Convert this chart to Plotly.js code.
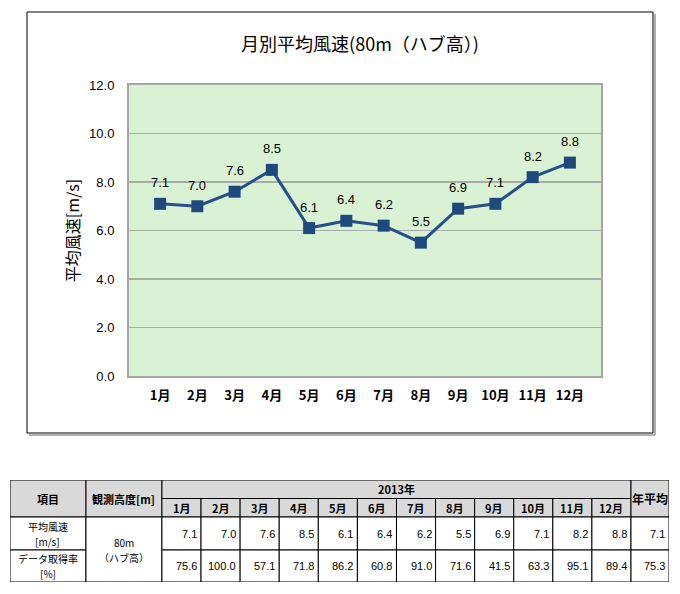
<!DOCTYPE html>
<html>
<head>
<meta charset="utf-8">
<script src="https://cdn.plot.ly/plotly-3.0.1.min.js"></script>
<style>
  html, body { margin: 0; padding: 0; background: #fff; }
  #chart { width: 680px; height: 594px; }
</style>
</head>
<body>
<div id="chart"></div>
<script>
// データ
const months = ['1月', '2月', '3月', '4月', '5月', '6月', '7月', '8月', '9月', '10月', '11月', '12月'];
const windSpeed = [7.1, 7.0, 7.6, 8.5, 6.1, 6.4, 6.2, 5.5, 6.9, 7.1, 8.2, 8.8];
const dataRate = [75.6, 100.0, 57.1, 71.8, 86.2, 60.8, 91.0, 71.6, 41.5, 63.3, 95.1, 89.4];
const annualWind = 7.1;
const annualRate = 75.3;
const yearLabel = '2013年';
const rowLabels = ['平均風速<br>[m/s]', 'データ取得率<br>[%]'];
const heightLabel = '80m<br>（ハブ高）';

const W = 680, H = 594;
const px = x => x / W;
const py = y => 1 - y / H;
const FONT = 'Liberation Sans, Arial, Noto Sans CJK JP, sans-serif';
const JFONT = 'Noto Sans CJK JP, sans-serif';

// グラフ
const trace = {
    x: months,
    y: windSpeed,
    type: 'scatter',
    mode: 'lines+markers',
    line: { color: '#264f8c', width: 3 },
    marker: { symbol: 'square', size: 12, color: '#1f497d' },
    cliponaxis: false,
    hoverinfo: 'skip',
    xaxis: 'x',
    yaxis: 'y'
};

const annotations = [];
// データラベル
windSpeed.forEach((v, i) => annotations.push({
    xref: 'x', yref: 'y', x: months[i], y: v,
    text: v.toFixed(1), showarrow: false,
    yshift: 21, xanchor: 'center', yanchor: 'middle',
    font: { family: FONT, size: 13, color: '#000' }
}));

// 表の列幅・行高さ (px)
const colW = [76, 76].concat(months.map(() => 39.1)).concat([38]);
const rowH = [18.5, 18.5, 33, 32];
const colE = [0];
colW.forEach(w => colE.push(colE[colE.length - 1] + w));
const rowE = [0];
rowH.forEach(h => rowE.push(rowE[rowE.length - 1] + h));

const cells = [];
cells.push({ c: [0, 1], r: [0, 2], t: '項目', head: true, bold: true });
cells.push({ c: [1, 2], r: [0, 2], t: '観測高度[m]', head: true, bold: true });
cells.push({ c: [2, 14], r: [0, 1], t: yearLabel, head: true, bold: true });
months.forEach((m, i) => cells.push({ c: [2 + i, 3 + i], r: [1, 2], t: m, head: true, bold: true }));
cells.push({ c: [14, 15], r: [0, 2], t: '年平均', head: true, bold: true, size: 12 });
cells.push({ c: [0, 1], r: [2, 3], t: rowLabels[0] });
cells.push({ c: [0, 1], r: [3, 4], t: rowLabels[1] });
cells.push({ c: [1, 2], r: [2, 4], t: heightLabel });
windSpeed.forEach((v, i) => cells.push({ c: [2 + i, 3 + i], r: [2, 3], t: v.toFixed(1), right: true }));
dataRate.forEach((v, i) => cells.push({ c: [2 + i, 3 + i], r: [3, 4], t: v.toFixed(1), right: true }));
cells.push({ c: [14, 15], r: [2, 3], t: annualWind.toFixed(1), right: true });
cells.push({ c: [14, 15], r: [3, 4], t: annualRate.toFixed(1), right: true });

const shapes = [
    // 外枠の影
    { type: 'line', xref: 'paper', yref: 'paper', x0: px(655), x1: px(655), y0: py(14), y1: py(435), line: { color: '#b0b0b0', width: 2 } },
    { type: 'line', xref: 'paper', yref: 'paper', x0: px(29), x1: px(655), y0: py(435), y1: py(435), line: { color: '#b0b0b0', width: 2 } },
    // 外枠
    { type: 'rect', xref: 'paper', yref: 'paper', x0: px(27), x1: px(653), y0: py(12), y1: py(433), line: { color: '#000', width: 1 } }
];

cells.forEach(cell => {
    const x0 = colE[cell.c[0]], x1 = colE[cell.c[1]];
    const y0 = rowE[cell.r[0]], y1 = rowE[cell.r[1]];
    shapes.push({
        type: 'rect', xref: 'x2', yref: 'y2', x0: x0, x1: x1, y0: y0, y1: y1,
        fillcolor: cell.head ? '#d9d9d9' : '#ffffff',
        line: { color: '#000', width: 1 }, layer: 'below'
    });
    const lines = cell.t.split('<br>');
    const multi = lines.length > 1;
    lines.forEach((ln, k) => annotations.push({
        xref: 'x2', yref: 'y2',
        x: cell.right ? x1 - 2 : (x0 + x1) / 2,
        y: (y0 + y1) / 2,
        yshift: -(k - (lines.length - 1) / 2) * 15,
        xanchor: cell.right ? 'right' : 'center',
        yanchor: 'middle',
        text: cell.bold ? '<b>' + ln + '</b>' : ln,
        showarrow: false,
        font: { family: cell.right ? FONT : JFONT, size: multi ? 10 : (cell.size || 11), color: '#000' }
    }));
});

const layout = {
    width: W,
    height: H,
    margin: { l: 0, r: 0, t: 0, b: 0 },
    paper_bgcolor: '#fff',
    plot_bgcolor: '#daf2d4',
    showlegend: false,
    title: {
        text: '月別平均風速(80m（ハブ高）)',
        x: px(360), y: py(45), xanchor: 'center', yanchor: 'middle',
        xref: 'paper', yref: 'paper',
        font: { family: JFONT, size: 18, color: '#000' }
    },
    xaxis: {
        domain: [px(129), px(601)],
        anchor: 'y',
        type: 'category',
        showgrid: false,
        showline: true, mirror: true, linecolor: '#a6a6a6', linewidth: 2,
        ticks: 'outside', ticklen: 6, tickcolor: 'rgba(0,0,0,0)',
        tickfont: { family: JFONT, size: 13, color: '#000', weight: 'bold' },
        fixedrange: true
    },
    yaxis: {
        domain: [py(376), py(85)],
        anchor: 'x',
        range: [0, 12],
        dtick: 2,
        tickformat: '.1f',
        showgrid: true, gridcolor: '#aaaaaa', gridwidth: 1.5,
        zeroline: false,
        showline: true, mirror: true, linecolor: '#a6a6a6', linewidth: 2,
        ticks: 'outside', ticklen: 10, tickcolor: 'rgba(0,0,0,0)',
        tickfont: { family: FONT, size: 13, color: '#000' },
        title: { text: '平均風速[m/s]', standoff: 5, font: { family: JFONT, size: 16, color: '#000' } },
        fixedrange: true
    },
    xaxis2: {
        domain: [px(10), px(669)],
        anchor: 'y2',
        range: [0, colE[colE.length - 1]],
        visible: false,
        fixedrange: true
    },
    yaxis2: {
        domain: [py(582), py(480)],
        anchor: 'x2',
        range: [rowE[rowE.length - 1], 0],
        visible: false,
        fixedrange: true
    },
    shapes: shapes,
    annotations: annotations
};

Plotly.newPlot('chart', [trace], layout, { displayModeBar: false, staticPlot: true });
</script>
</body>
</html>
